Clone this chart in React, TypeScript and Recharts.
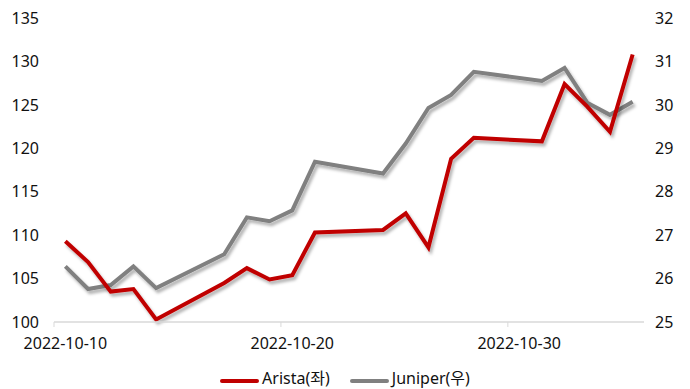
import { LineChart, Line, XAxis, YAxis, Legend } from 'recharts';

const dates = [
  '2022-10-10', '2022-10-11', '2022-10-12', '2022-10-13', '2022-10-14',
  '2022-10-17', '2022-10-18', '2022-10-19', '2022-10-20', '2022-10-21',
  '2022-10-24', '2022-10-25', '2022-10-26', '2022-10-27', '2022-10-28',
  '2022-10-31', '2022-11-01', '2022-11-02', '2022-11-03', '2022-11-04',
];
const arista = [
  109.3, 106.9, 103.5, 103.8, 100.3,
  104.5, 106.2, 104.9, 105.4, 110.3,
  110.6, 112.5, 108.6, 118.8, 121.2,
  120.8, 127.4, 124.8, 121.9, 130.8,
];
const juniper = [
  26.28, 25.76, 25.85, 26.28, 25.78,
  26.56, 27.41, 27.32, 27.57, 28.69,
  28.42, 29.11, 29.93, 30.23, 30.76,
  30.55, 30.85, 30.05, 29.77, 30.07,
];
const xTickDates = ['2022-10-10', '2022-10-20', '2022-10-30'];
const leftTicks = [100, 105, 110, 115, 120, 125, 130, 135];
const rightTicks = [25, 26, 27, 28, 29, 30, 31, 32];

const W = 690;
const H = 389;
const M = { top: 18, right: 0, bottom: 1, left: 0 };
const LEFT_W = 54;
const RIGHT_W = 46;
const START = Date.UTC(2022, 9, 10);
const DAYS = 26;
const DAY_PX = (W - LEFT_W - RIGHT_W) / DAYS;

const dayOf = (s: string) => {
  const [y, m, d] = s.split('-').map(Number);
  return (Date.UTC(y, m - 1, d) - START) / 86400000;
};

const data = dates.map((d, i) => ({
  t: dayOf(d) + 0.5,
  arista: arista[i],
  juniper: juniper[i],
}));

const FONT = '"Noto Sans", "Noto Sans CJK KR", sans-serif';
const TXT = '#111';
const RED = '#c00000';
const GRAY = '#808080';

const DateTick = (props: any) => {
  const { x, y, payload } = props;
  const label = xTickDates.find((d) => dayOf(d) === payload.value) ?? '';
  return (
    <text x={x + DAY_PX / 2} y={y} dy={14} textAnchor="middle"
      fill={TXT} fontSize={16} fontFamily={FONT}>
      {label}
    </text>
  );
};

const items = [
  { name: 'Arista(좌)', color: RED },
  { name: 'Juniper(우)', color: GRAY },
];

const LegendBox = () => (
  <div style={{
    display: 'flex', justifyContent: 'center', alignItems: 'center', gap: 20,
    height: 25, paddingTop: 5, boxSizing: 'border-box', lineHeight: '20px',
    fontFamily: FONT, fontSize: 16, color: TXT,
  }}>
    {items.map((it) => (
      <div key={it.name} style={{ display: 'flex', alignItems: 'center' }}>
        <span style={{
          display: 'inline-block', width: 39, height: 4, borderRadius: 2,
          background: it.color, marginRight: 3, marginTop: 5,
        }} />
        <span>{it.name}</span>
      </div>
    ))}
  </div>
);

export default function App() {
  return (
    <div style={{ position: 'absolute', left: 0, top: 0, width: W, height: H, background: '#fff' }}>
      <LineChart width={W} height={H} data={data} margin={M}>
        <defs>
          <filter id="shadow" x="-10%" y="-10%" width="130%" height="140%">
            <feDropShadow dx="2" dy="3" stdDeviation="1.8" floodColor="#000" floodOpacity="0.3" />
          </filter>
        </defs>
        <XAxis
          dataKey="t" type="number" domain={[0, DAYS]}
          ticks={xTickDates.map(dayOf)} interval={0}
          axisLine={{ stroke: '#d9d9d9', strokeWidth: 1.5 }}
          tickLine={{ stroke: '#d9d9d9' }} tickSize={5} tickMargin={8}
          height={41} tick={<DateTick />}
        />
        <YAxis
          yAxisId="left" domain={[100, 135]} ticks={leftTicks} interval={0}
          width={LEFT_W} axisLine={false} tickLine={false} tickSize={0} tickMargin={15}
          tick={{ fill: TXT, fontSize: 16, fontFamily: FONT }}
        />
        <YAxis
          yAxisId="right" orientation="right" domain={[25, 32]} ticks={rightTicks} interval={0}
          width={RIGHT_W} axisLine={false} tickLine={false} tickSize={0} tickMargin={11}
          tick={{ fill: TXT, fontSize: 16, fontFamily: FONT, textAnchor: 'start' }}
        />
        <Legend verticalAlign="bottom" content={<LegendBox />} />
        <Line yAxisId="right" dataKey="juniper" stroke={GRAY} strokeWidth={4}
          dot={false} isAnimationActive={false} filter="url(#shadow)" strokeLinejoin="miter" />
        <Line yAxisId="left" dataKey="arista" stroke={RED} strokeWidth={4}
          dot={false} isAnimationActive={false} filter="url(#shadow)" strokeLinejoin="miter" />
      </LineChart>
    </div>
  );
}
